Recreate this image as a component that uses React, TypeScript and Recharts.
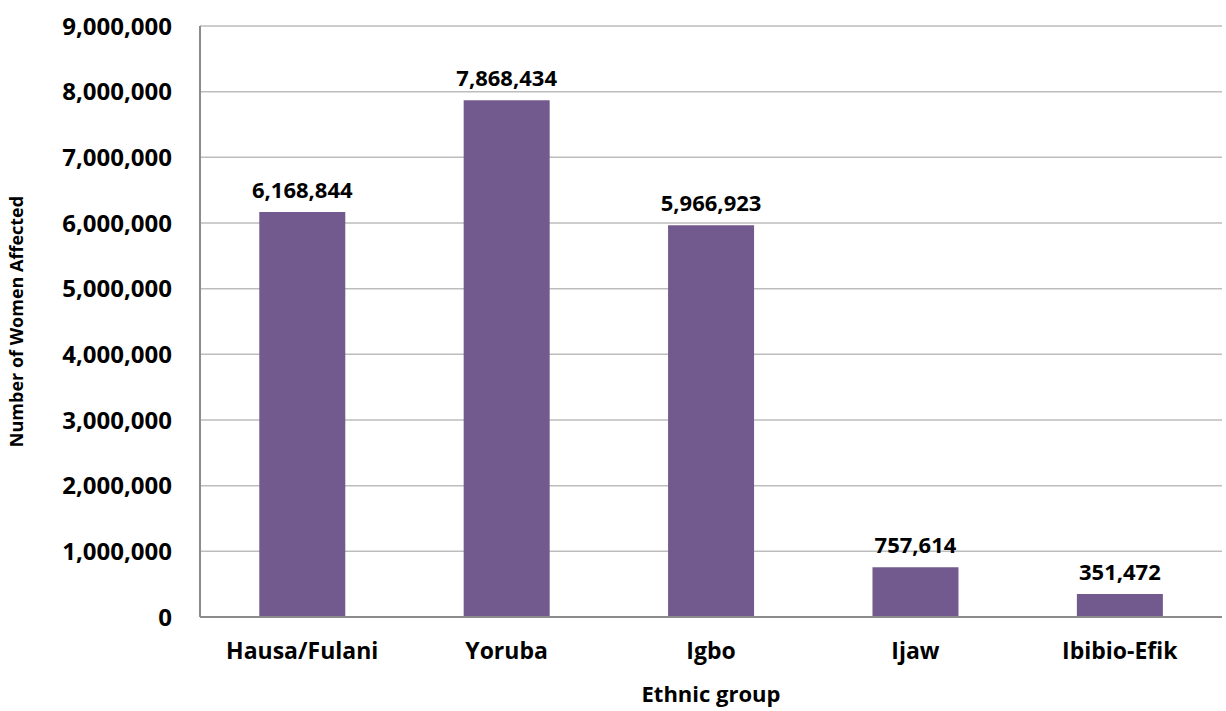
import { BarChart, Bar, XAxis, YAxis, CartesianGrid, LabelList } from 'recharts';

const groups = ['Hausa/Fulani', 'Yoruba', 'Igbo', 'Ijaw', 'Ibibio-Efik'];
const womenAffected = [6168844, 7868434, 5966923, 757614, 351472];
const yTicks = [0, 1000000, 2000000, 3000000, 4000000, 5000000, 6000000, 7000000, 8000000, 9000000];

const data = groups.map((g, i) => ({ group: g, value: womenAffected[i] }));

const fmt = (v: number) => v.toLocaleString('en-US');
const font = '"Open Sans", Lato, sans-serif';

export default function App() {
  return (
    <div style={{ position: 'absolute', left: 0, top: 0, background: '#fff' }}>
      <BarChart
        width={1226}
        height={711}
        data={data}
        margin={{ top: 26, right: 4, bottom: 0, left: 0 }}
        barCategoryGap="29%"
        style={{ fontFamily: font, fontWeight: 700 }}
      >
        <CartesianGrid vertical={false} stroke="#bdbdbd" strokeWidth={1.5} />
        <XAxis
          dataKey="group"
          height={94}
          tickLine={false}
          tickSize={0}
          tickMargin={26}
          axisLine={{ stroke: '#8c8c8c', strokeWidth: 2 }}
          tick={{ fill: '#000', fontSize: 23, fontWeight: 700 }}
          label={{
            value: 'Ethnic group',
            position: 'insideBottom',
            offset: 9,
            style: { fill: '#000', fontSize: 22, fontWeight: 700 },
          }}
        />
        <YAxis
          width={200}
          domain={[0, 9000000]}
          ticks={yTicks}
          tickFormatter={fmt}
          tickLine={false}
          tickSize={0}
          tickMargin={28}
          axisLine={{ stroke: '#8c8c8c', strokeWidth: 2 }}
          tick={{ fill: '#000', fontSize: 24, fontWeight: 700 }}
          label={{
            value: 'Number of Women Affected',
            angle: -90,
            position: 'insideLeft',
            offset: 17,
            style: { textAnchor: 'middle', fill: '#000', fontSize: 18, fontWeight: 700 },
          }}
        />
        <Bar dataKey="value" fill="#725a8e" isAnimationActive={false}>
          <LabelList
            dataKey="value"
            position="top"
            offset={14}
            formatter={(v: number) => fmt(v)}
            style={{ fill: '#000', fontSize: 22, fontWeight: 700 }}
          />
        </Bar>
      </BarChart>
    </div>
  );
}
